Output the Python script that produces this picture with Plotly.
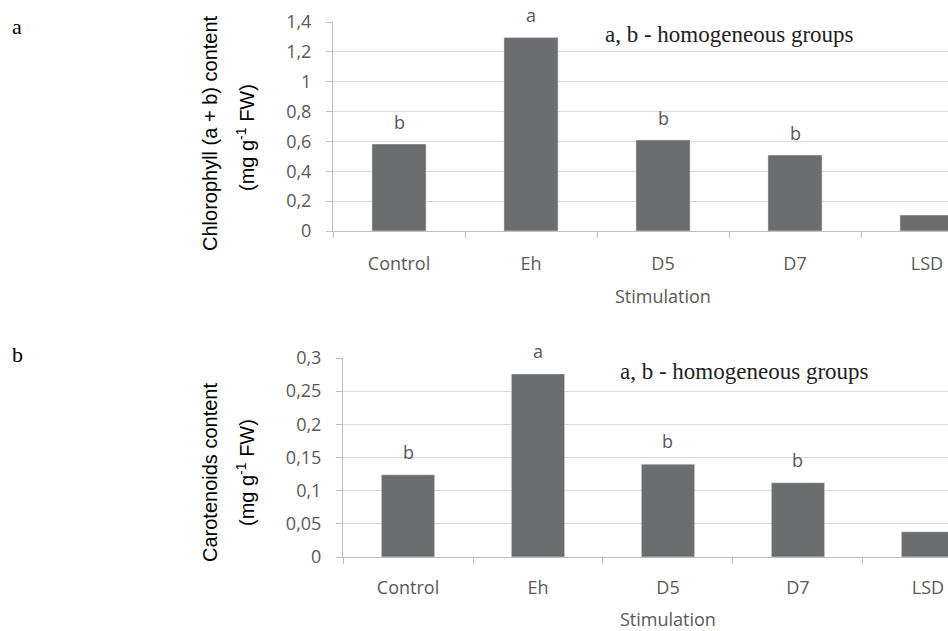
import plotly.graph_objects as go

categories = ["Control", "Eh", "D5", "D7", "LSD"]
chlorophyll = [0.583, 1.297, 0.61, 0.509, 0.107]
chl_groups = ["b", "a", "b", "b", ""]
carotenoids = [0.124, 0.276, 0.140, 0.112, 0.038]
car_groups = ["b", "a", "b", "b", ""]
chl_ticks = [0, 0.2, 0.4, 0.6, 0.8, 1.0, 1.2, 1.4]
chl_ticktext = ["0", "0,2", "0,4", "0,6", "0,8", "1", "1,2", "1,4"]
car_ticks = [0, 0.05, 0.1, 0.15, 0.2, 0.25, 0.3]
car_ticktext = ["0", "0,05", "0,1", "0,15", "0,2", "0,25", "0,3"]

W, H = 948, 631
BAR = "#6b6d6e"
GRID = "#d9d9d9"
AXC = "#bfbfbf"
TICKF = dict(family="Open Sans", size=18, color="#595959")


def fx(p):
    return p / W


def fy(p):
    return 1 - p / H


fig = go.Figure()
fig.add_trace(go.Bar(x=categories, y=chlorophyll, marker_color=BAR, width=0.41,
                     xaxis="x", yaxis="y", showlegend=False, hoverinfo="skip"))
fig.add_trace(go.Bar(x=categories, y=carotenoids, marker_color=BAR, width=0.41,
                     xaxis="x2", yaxis="y2", showlegend=False, hoverinfo="skip"))


def xax(dom, rng, anchor, standoff):
    return dict(domain=dom, type="category", range=rng, showgrid=False,
                showline=True, linecolor=AXC, linewidth=1, ticks="outside",
                tickson="boundaries", ticklen=6, tickcolor=AXC, anchor=anchor,
                ticklabelstandoff=standoff,
                tickfont=TICKF, fixedrange=True, zeroline=False, automargin=False)


def yax(dom, rng, tv, tt, anchor):
    return dict(domain=dom, range=rng, tickvals=tv, ticktext=tt, showgrid=True,
                gridcolor=GRID, gridwidth=1, showline=True, linecolor=AXC,
                ticks="outside", ticklen=6, tickcolor=AXC, tickfont=TICKF,
                ticklabelstandoff=11,
                zeroline=False, anchor=anchor, fixedrange=True, automargin=False)


annotations = []
for c, v, g in zip(categories, chlorophyll, chl_groups):
    if g:
        annotations.append(dict(x=c, y=v, xref="x", yref="y", text=g, showarrow=False,
                                yanchor="middle", yshift=22, font=TICKF))
for c, v, g in zip(categories, carotenoids, car_groups):
    if g:
        annotations.append(dict(x=c, y=v, xref="x2", yref="y2", text=g, showarrow=False,
                                yanchor="middle", yshift=23, font=TICKF))


def px(xp, yp, text, font, angle=0, xa="center", ya="middle"):
    return dict(x=fx(xp), y=fy(yp), xref="paper", yref="paper", text=text,
                showarrow=False, font=font, textangle=angle, xanchor=xa, yanchor=ya)


LAB = dict(family="Liberation Sans", size=20, color="#000000")
SER = dict(family="Liberation Serif", size=23, color="#222222")
annotations += [
    px(210, 133, "Chlorophyll (a + b) content", LAB, -90),
    px(245, 138, "(mg g<sup>-1</sup> FW)", LAB, -90),
    px(210, 473, "Carotenoids content", LAB, -90),
    px(245, 473, "(mg g<sup>-1</sup> FW)", LAB, -90),
    px(663, 296, "Stimulation", TICKF),
    px(668, 619, "Stimulation", TICKF),
    px(729, 35, "a, b - homogeneous groups", SER),
    px(744, 371, "a, b - homogeneous groups", SER),
    px(17, 26, "a", dict(family="Liberation Serif", size=22, color="#000")),
    px(17, 354, "b", dict(family="Liberation Serif", size=22, color="#000")),
]

fig.update_layout(
    width=W, height=H, margin=dict(l=0, r=0, t=0, b=0, autoexpand=False),
    paper_bgcolor="white", plot_bgcolor="white", bargap=0.59,
    xaxis=xax([fx(333), 1], [-0.5, 4.159], "y", 16),
    yaxis=yax([fy(231), fy(22)], [0, 1.4], chl_ticks, chl_ticktext, "x"),
    xaxis2=xax([fx(343), 1], [-0.5, 4.154], "y2", 14),
    yaxis2=yax([fy(557), fy(358)], [0, 0.3], car_ticks, car_ticktext, "x2"),
    annotations=annotations,
)
fig.write_html(
    "out.html",
    config={"displayModeBar": False, "staticPlot": True},
    post_script="document.body.style.margin='0';document.body.style.overflow='hidden';",
)
